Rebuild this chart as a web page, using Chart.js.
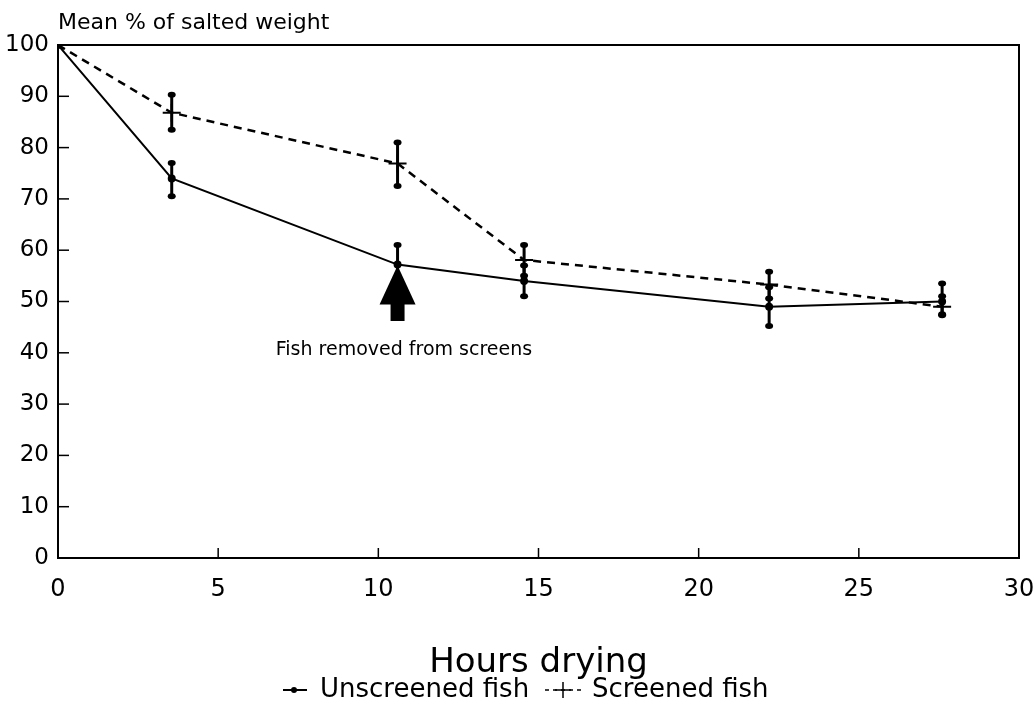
<!DOCTYPE html>
<html>
<head>
<meta charset="utf-8">
<script src="https://cdn.jsdelivr.net/npm/chart.js@4/dist/chart.umd.min.js"></script>
<style>
  html, body { margin: 0; padding: 0; background: #fff; }
  #wrap { width: 1035px; height: 712px; }
</style>
</head>
<body>
<div id="wrap"><canvas id="c" width="1035" height="712"></canvas></div>
<script>
// ---- data ----
const hours = [0, 3.55, 10.6, 14.55, 22.2, 27.6];
const unscreened = [100, 74, 57.2, 54, 49, 50];
const unscreenedLow = [null, 70.5, 53.5, 51, 45.2, 47.3];
const unscreenedHigh = [null, 77, 61, 57, 52.8, 53.5];
const screened = [100, 86.8, 76.9, 58.1, 53.3, 49];
const screenedLow = [null, 83.5, 72.5, 55, 50.6, 47.5];
const screenedHigh = [null, 90.3, 81, 61, 55.8, 51];
const seriesLabels = ['Unscreened fish', 'Screened fish'];
const yTitle = 'Mean % of salted weight';
const xTitle = 'Hours drying';
const noteText = 'Fish removed from screens';
const noteAt = [10.8, 40.5];
const arrowX = 10.6, arrowTip = 57, arrowBase = 49.4, arrowTail = 46.2;

const FONT = '"DejaVu Sans", "Liberation Sans", sans-serif';

const toPts = (ys) => hours.map((x, i) => ({ x: x, y: ys[i] }));

const errorBars = {
  id: 'errorBars',
  afterDatasetsDraw(chart) {
    const ctx = chart.ctx, xs = chart.scales.x, ys = chart.scales.y;
    const sets = [[unscreenedLow, unscreenedHigh], [screenedLow, screenedHigh]];
    ctx.save();
    ctx.strokeStyle = '#000';
    ctx.fillStyle = '#000';
    ctx.lineWidth = 3;
    sets.forEach(([lo, hi]) => {
      hours.forEach((h, i) => {
        if (lo[i] == null) return;
        const px = xs.getPixelForValue(h);
        const y1 = ys.getPixelForValue(lo[i]);
        const y2 = ys.getPixelForValue(hi[i]);
        ctx.beginPath(); ctx.moveTo(px, y1); ctx.lineTo(px, y2); ctx.stroke();
        [y1, y2].forEach(yy => {
          ctx.beginPath(); ctx.ellipse(px, yy, 4, 3, 0, 0, Math.PI * 2); ctx.fill();
        });
      });
    });
    ctx.restore();
  }
};

const decor = {
  id: 'decor',
  afterDraw(chart) {
    const ctx = chart.ctx, a = chart.chartArea, xs = chart.scales.x, ys = chart.scales.y;
    ctx.save();
    // frame
    ctx.strokeStyle = '#000';
    ctx.lineWidth = 2;
    ctx.strokeRect(a.left, a.top, a.right - a.left, a.bottom - a.top);
    // inward ticks
    ctx.lineWidth = 1.5;
    ys.ticks.forEach(t => {
      const py = ys.getPixelForValue(t.value);
      ctx.beginPath(); ctx.moveTo(a.left, py); ctx.lineTo(a.left + 11, py); ctx.stroke();
    });
    xs.ticks.forEach(t => {
      const px = xs.getPixelForValue(t.value);
      ctx.beginPath(); ctx.moveTo(px, a.bottom); ctx.lineTo(px, a.bottom - 10); ctx.stroke();
    });
    // y title
    ctx.fillStyle = '#000';
    ctx.font = '22px ' + FONT;
    ctx.textAlign = 'left';
    ctx.textBaseline = 'alphabetic';
    ctx.fillText(yTitle, a.left, a.top - 16);
    // arrow
    const ax = xs.getPixelForValue(arrowX);
    const tip = ys.getPixelForValue(arrowTip);
    const base = ys.getPixelForValue(arrowBase);
    const tail = ys.getPixelForValue(arrowTail);
    ctx.beginPath();
    ctx.moveTo(ax, tip);
    ctx.lineTo(ax + 18, base);
    ctx.lineTo(ax - 18, base);
    ctx.closePath();
    ctx.fill();
    ctx.fillRect(ax - 7, base - 1, 14, tail - base + 1);
    // note
    ctx.font = '19px ' + FONT;
    ctx.textAlign = 'center';
    ctx.textBaseline = 'middle';
    ctx.fillText(noteText, xs.getPixelForValue(noteAt[0]), ys.getPixelForValue(noteAt[1]));
    // legend
    ctx.font = '26px ' + FONT;
    const ly = 690;
    ctx.textAlign = 'left';
    ctx.lineWidth = 2;
    ctx.setLineDash([]);
    let x = 283;
    ctx.beginPath(); ctx.moveTo(x, ly); ctx.lineTo(x + 24, ly); ctx.stroke();
    ctx.beginPath(); ctx.arc(x + 11, ly, 3, 0, Math.PI * 2); ctx.fill();
    ctx.fillText(seriesLabels[0], 320, ly);
    x = 545;
    const s2 = 36;
    ctx.setLineDash([4, 4]);
    ctx.lineWidth = 1.5;
    ctx.beginPath(); ctx.moveTo(x, ly); ctx.lineTo(x + s2, ly); ctx.stroke();
    ctx.setLineDash([]);
    ctx.beginPath();
    ctx.moveTo(x + s2 / 2 - 8, ly); ctx.lineTo(x + s2 / 2 + 8, ly);
    ctx.moveTo(x + s2 / 2, ly - 8); ctx.lineTo(x + s2 / 2, ly + 8);
    ctx.stroke();
    ctx.fillText(seriesLabels[1], 592, ly);
    ctx.restore();
  }
};

new Chart(document.getElementById('c'), {
  type: 'scatter',
  data: {
    datasets: [
      {
        label: seriesLabels[0],
        data: toPts(unscreened),
        showLine: true,
        borderColor: '#000',
        backgroundColor: '#000',
        borderWidth: 2,
        pointRadius: 3,
        pointStyle: 'circle'
      },
      {
        label: seriesLabels[1],
        data: toPts(screened),
        showLine: true,
        borderColor: '#000',
        backgroundColor: '#000',
        borderWidth: 2.5,
        borderDash: [8, 6],
        pointRadius: 9,
        pointBorderWidth: 2,
        pointStyle: 'cross'
      }
    ]
  },
  options: {
    responsive: false,
    animation: false,
    layout: { padding: { top: 45, right: 16, left: 0, bottom: 0 } },
    plugins: { legend: { display: false }, tooltip: { enabled: false } },
    scales: {
      x: {
        type: 'linear', min: 0, max: 30,
        ticks: { stepSize: 5, color: '#000', font: { family: FONT, size: 24 }, padding: 17, maxRotation: 0 },
        grid: { display: false, drawTicks: false },
        border: { display: false },
        title: { display: true, text: xTitle, color: '#000', font: { family: FONT, size: 34 }, padding: { top: 0, bottom: 28 } },
        afterFit(s) { s.height = 154; s.paddingLeft = 0; s.paddingRight = 0; }
      },
      y: {
        type: 'linear', min: 0, max: 100,
        ticks: { stepSize: 10, color: '#000', font: { family: FONT, size: 23 }, padding: 9 },
        grid: { display: false, drawTicks: false },
        border: { display: false },
        afterFit(s) { s.width = 58; s.paddingTop = 0; s.paddingBottom = 0; }
      }
    }
  },
  plugins: [errorBars, decor]
});
</script>
</body>
</html>
